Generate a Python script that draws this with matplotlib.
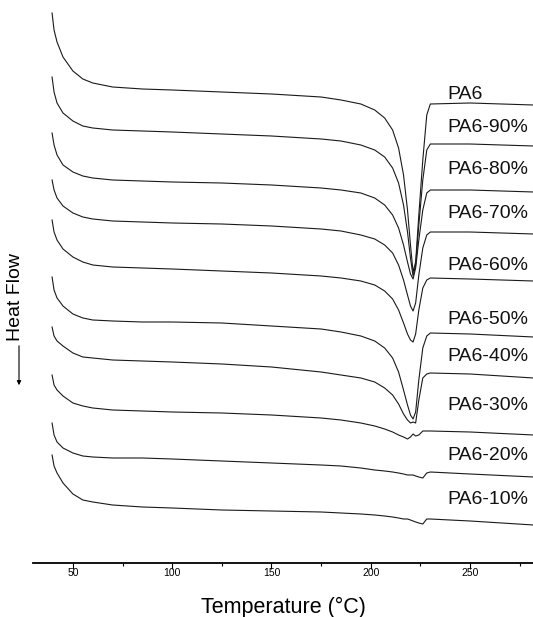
import matplotlib
matplotlib.use("Agg")
import matplotlib.pyplot as plt
from matplotlib.patches import FancyArrowPatch
from matplotlib.ticker import MultipleLocator

plt.rcParams['font.family'] = ['Liberation Sans', 'DejaVu Sans']

# temperature points (°C) shared by all DSC traces
temp = [39.5, 40.5, 42, 45, 50, 55, 60, 70, 85, 100, 125, 150, 175, 185, 195,
        202, 207, 211, 214, 216.5, 218.5, 220, 221.3, 222.6, 224.2, 226.2,
        228.2, 230, 250, 282]

# heat flow (a.u., curves already shifted for display)
pa6 = [55.0, 53.3, 52.1, 50.6, 49.2, 48.4, 48.0, 47.6, 47.4, 47.3, 47.1, 46.9,
       46.6, 46.3, 45.9, 45.3, 44.5, 43.3, 41.5, 38.8, 35.3, 31.8, 29.1, 30.1,
       34.8, 40.3, 44.8, 45.9, 46.0, 45.8]
pa6_90 = [48.6, 47.1, 46.0, 45.0, 44.2, 43.7, 43.5, 43.3, 43.2, 43.1, 42.9, 42.7,
          42.4, 42.2, 41.8, 41.3, 40.6, 39.5, 38.0, 35.8, 33.1, 30.5, 28.7, 29.8,
          33.8, 38.3, 41.3, 41.9, 41.9, 41.7]
pa6_80 = [43.0, 41.8, 40.8, 39.8, 39.1, 38.7, 38.5, 38.3, 38.2, 38.1, 38.0, 37.8,
          37.5, 37.3, 37.0, 36.5, 35.8, 34.8, 33.5, 31.8, 30.1, 28.9, 28.4, 29.5,
          32.3, 35.3, 37.0, 37.3, 37.3, 37.1]
pa6_70 = [38.3, 37.3, 36.5, 35.7, 35.0, 34.6, 34.4, 34.2, 34.1, 34.0, 33.9, 33.7,
          33.4, 33.2, 32.8, 32.4, 31.8, 31.0, 29.8, 28.3, 26.8, 25.7, 25.2, 26.0,
          28.8, 31.5, 32.8, 33.1, 33.1, 32.9]
pa6_60 = [34.3, 33.1, 32.3, 31.4, 30.6, 30.1, 29.8, 29.6, 29.5, 29.4, 29.2, 29.0,
          28.7, 28.5, 28.2, 27.8, 27.2, 26.4, 25.3, 24.0, 22.9, 22.3, 22.1, 22.9,
          25.3, 27.5, 28.3, 28.5, 28.4, 28.2]
pa6_50 = [28.6, 27.3, 26.5, 25.7, 24.9, 24.5, 24.3, 24.2, 24.1, 24.1, 24.0, 23.7,
          23.4, 23.1, 22.7, 22.2, 21.5, 20.5, 19.1, 17.3, 15.8, 14.8, 14.4, 15.1,
          18.3, 21.5, 22.7, 23.0, 22.9, 22.6]
pa6_40 = [23.6, 22.7, 22.2, 21.7, 21.0, 20.6, 20.5, 20.3, 20.2, 20.1, 19.9, 19.6,
          19.1, 18.8, 18.5, 18.1, 17.5, 16.8, 15.9, 14.9, 14.3, 14.0, 14.1, 14.0,
          16.3, 18.5, 18.9, 19.0, 18.9, 18.5]
pa6_30 = [18.8, 17.8, 17.3, 16.7, 16.0, 15.7, 15.5, 15.3, 15.2, 15.1, 15.0, 14.8,
          14.5, 14.3, 14.0, 13.7, 13.4, 13.1, 12.8, 12.6, 12.4, 12.6, 12.9, 12.7,
          12.8, 13.2, 13.2, 13.2, 13.1, 12.8]
pa6_20 = [14.0, 12.8, 12.1, 11.5, 11.0, 10.7, 10.6, 10.5, 10.5, 10.4, 10.2, 10.0,
          9.8, 9.7, 9.5, 9.3, 9.2, 9.1, 9.0, 8.9, 8.8, 8.8, 8.8, 8.7,
          8.6, 8.5, 9.0, 9.1, 8.9, 8.6]
pa6_10 = [10.8, 9.7, 9.0, 8.0, 6.9, 6.3, 6.1, 5.8, 5.6, 5.5, 5.3, 5.2,
          5.1, 5.0, 4.9, 4.8, 4.7, 4.6, 4.5, 4.4, 4.4, 4.3, 4.2, 4.1,
          4.0, 3.9, 4.4, 4.4, 4.2, 3.8]

curves = [pa6, pa6_90, pa6_80, pa6_70, pa6_60, pa6_50, pa6_40, pa6_30, pa6_20, pa6_10]
names = ['PA6', 'PA6-90%', 'PA6-80%', 'PA6-70%', 'PA6-60%',
         'PA6-50%', 'PA6-40%', 'PA6-30%', 'PA6-20%', 'PA6-10%']
label_y = [46.8, 43.5, 39.3, 34.9, 29.7, 24.3, 20.6, 15.8, 10.8, 6.4]
label_x = 238.4

fig = plt.figure(figsize=(5.33, 6.17), dpi=100)
ax = fig.add_axes([33 / 533, 54 / 617, 500 / 533, 563 / 617])

for y in curves:
    ax.plot(temp, y, color='#1a1a1a', lw=0.8)

for name, ly in zip(names, label_y):
    ax.text(label_x, ly, name, fontsize=14, ha='left', va='center', color='#111111')

ax.set_xlim(29.9, 281.7)
ax.set_ylim(0, 56.3)

for s in ['left', 'right', 'top']:
    ax.spines[s].set_visible(False)
ax.spines['bottom'].set_linewidth(1.3)
ax.set_yticks([])
ax.xaxis.set_major_locator(MultipleLocator(50))
ax.xaxis.set_minor_locator(MultipleLocator(25))
ax.tick_params(axis='x', which='major', length=4, width=0.8, labelsize=7.5, pad=-0.5)
ax.tick_params(axis='x', which='minor', length=2.5, width=0.8)

# axis titles
fig.text(283 / 533, 4 / 617, 'Temperature (\u00b0C)', fontsize=15.5, ha='center', va='baseline')
fig.text(16 / 533, 1 - 297 / 617, 'Heat Flow', rotation=90, fontsize=14, ha='center', va='center')
fig.add_artist(FancyArrowPatch((19 / 533, 1 - 343 / 617), (19 / 533, 1 - 388 / 617),
                               transform=fig.transFigure, arrowstyle='-|>',
                               mutation_scale=6, lw=0.8, color='k'))

fig.savefig('out.png', dpi=100)
